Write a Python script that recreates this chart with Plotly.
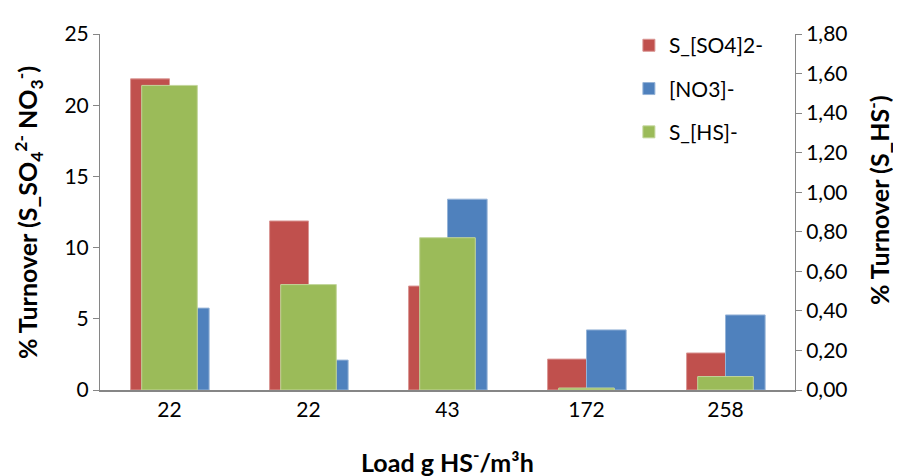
import plotly.graph_objects as go

categories = ["22", "22", "43", "172", "258"]
so4 = [21.85, 11.87, 7.3, 2.17, 2.6]
no3 = [5.75, 2.1, 13.4, 4.22, 5.27]
hs = [1.54, 0.533, 0.77, 0.01, 0.068]

pos = list(range(len(categories)))
FONT = "Lato"

fig = go.Figure()
fig.add_trace(go.Bar(x=pos, y=so4, name="S_[SO4]2-", marker=dict(color="#C0504D", line=dict(color="#D99694", width=1)),
                     offset=-0.28, width=0.28, legendgroup="a"))
fig.add_trace(go.Bar(x=pos, y=no3, name="[NO3]-", marker=dict(color="#4F81BD", line=dict(color="#95B3D7", width=1)),
                     offset=0.0, width=0.285, legendgroup="b"))
fig.add_trace(go.Bar(x=pos, y=hs, name="S_[HS]-", marker=dict(color="#9BBB59", line=dict(color="#C3D69B", width=1)),
                     offset=-0.2, width=0.4, yaxis="y2", legendgroup="c"))

fig.update_layout(
    width=893, height=468,
    margin=dict(l=92, r=106, t=17, b=86),
    paper_bgcolor="white", plot_bgcolor="white",
    barmode="overlay",
    separators=",.",
    font=dict(family=FONT, size=21, color="black"),
    showlegend=True,
    legend=dict(x=0.761, y=1.025, xanchor="left", yanchor="top", tracegroupgap=13,
                font=dict(size=21), bgcolor="rgba(0,0,0,0)", itemwidth=30),
    xaxis=dict(range=[-0.5, 4.5], tickvals=pos, ticktext=categories, showline=True,
               linecolor="#868686", linewidth=2, ticks="", showgrid=False, zeroline=False,
               tickfont=dict(size=21)),
    yaxis=dict(range=[0, 25], dtick=5, tickformat="d", showline=True, linecolor="#868686", linewidth=1,
               ticks="outside", ticklen=6, tickcolor="#868686", showgrid=False, zeroline=False),
    yaxis2=dict(range=[0, 1.8], dtick=0.2, tickformat=".2f", overlaying="y", side="right",
                showline=True, linecolor="#868686", linewidth=1, ticks="outside", ticklen=6,
                tickcolor="#868686", showgrid=False, zeroline=False),
    annotations=[
        dict(text="<b>% Turnover (S_SO<sub>4</sub><sup>2-</sup> NO<sub>3</sub><sup>-</sup>)</b>",
             xref="paper", yref="paper", x=-0.1036, y=0.5, textangle=-90, showarrow=False,
             xanchor="center", yanchor="middle", font=dict(size=25, weight="bold")),
        dict(text="<b>% Turnover (S_HS<sup>-</sup>)</b>",
             xref="paper", yref="paper", x=1.12, y=0.535, textangle=-90, showarrow=False,
             xanchor="center", yanchor="middle", font=dict(size=25, weight="bold")),
        dict(text="<b>Load g HS<sup>-</sup>/m³h</b>",
             xref="paper", yref="paper", x=0.5, y=-0.197, showarrow=False,
             xanchor="center", yanchor="middle", font=dict(size=25, weight="bold")),
    ],
)

fig.write_html("out.html")
